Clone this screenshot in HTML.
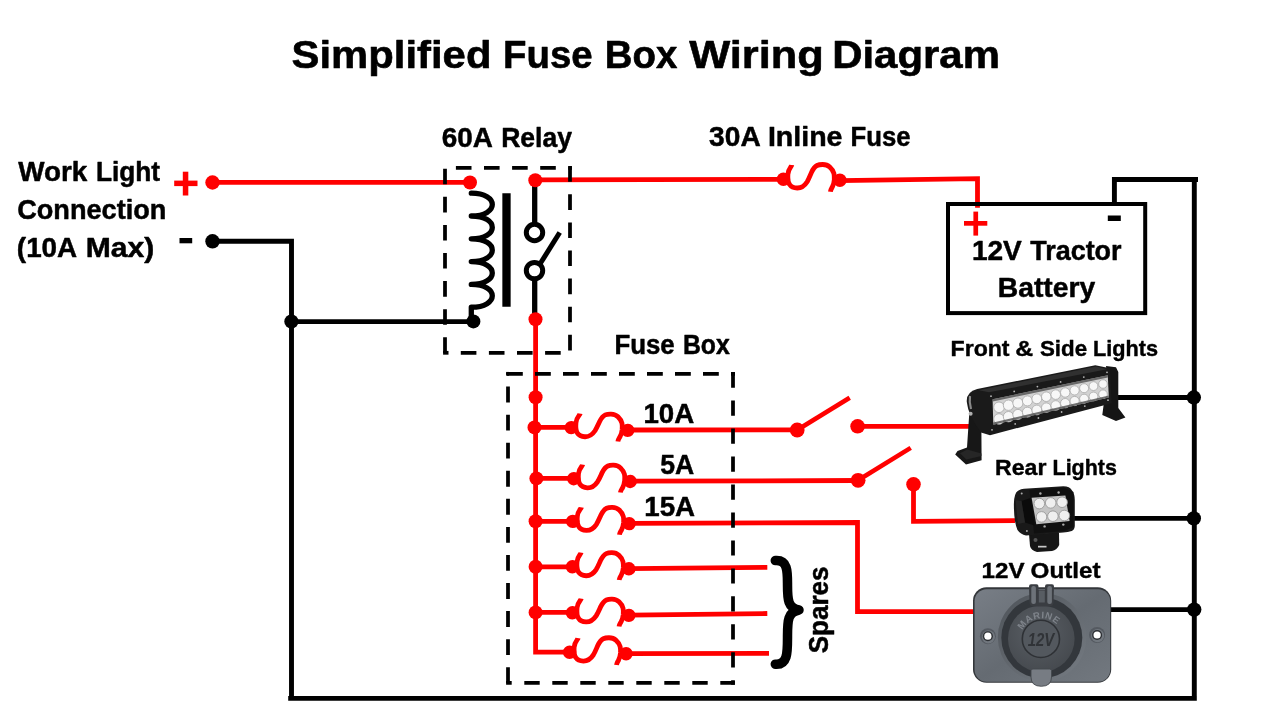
<!DOCTYPE html>
<html><head><meta charset="utf-8">
<style>
html,body{margin:0;padding:0;background:#fff;}
body{width:1280px;height:720px;overflow:hidden;}
svg{display:block;will-change:transform;}
text{font-family:"Liberation Sans",sans-serif;font-weight:bold;fill:#000;}
</style></head><body>
<svg width="1280" height="720" viewBox="0 0 1280 720">
<defs>
<g id="fuse">
  <circle cx="0" cy="0" r="6.7" fill="#f00"/>
  <circle cx="56.5" cy="1" r="6.7" fill="#f00"/>
  <path d="M8.4,-14.3 C8.2,-12.8 4.7,-10.5 4.5,-5 C4.2,0 5,3.5 6.2,5.2 C8,8 11,8.7 13.9,8.7 C18.5,8.7 21.5,6 23.8,2.4 C25.5,-0.5 26.8,-4 28,-6.7 C29.5,-10 31.5,-12.8 33.6,-13.8 C35.5,-14.7 37.5,-14.8 39.3,-14.8 C42,-14.8 44.5,-14 46.3,-12.3 C48.5,-10.3 50,-8 50.5,-6 C51,-4 51,-2 50.9,0.3 C50.7,3 50,5.5 49.1,7.3 C48.3,9 47.2,10.3 47,12.4" fill="none" stroke="#f00" stroke-width="4.8"/>
</g>
</defs>
<rect width="1280" height="720" fill="#fff"/>

<!-- TEXT -->
<g id="texts" stroke="#000" stroke-linejoin="round">
<text x="291.54" y="68.30" font-size="39.6" stroke-width="0.6" textLength="199.92" lengthAdjust="spacingAndGlyphs">Simplified</text>
<text x="503.01" y="68.30" font-size="39.6" stroke-width="0.6" textLength="89.60" lengthAdjust="spacingAndGlyphs">Fuse</text>
<text x="604.81" y="68.30" font-size="39.6" stroke-width="0.6" textLength="72.55" lengthAdjust="spacingAndGlyphs">Box</text>
<text x="689.19" y="68.30" font-size="39.6" stroke-width="0.6" textLength="134.70" lengthAdjust="spacingAndGlyphs">Wiring</text>
<text x="832.17" y="68.30" font-size="39.6" stroke-width="0.6" textLength="167.81" lengthAdjust="spacingAndGlyphs">Diagram</text>
<text x="18.18" y="180.80" font-size="28.0" stroke-width="0.5" textLength="69.06" lengthAdjust="spacingAndGlyphs">Work</text>
<text x="95.98" y="180.80" font-size="28.0" stroke-width="0.5" textLength="64.12" lengthAdjust="spacingAndGlyphs">Light</text>
<text x="17.16" y="218.80" font-size="28.0" stroke-width="0.5" textLength="149.20" lengthAdjust="spacingAndGlyphs">Connection</text>
<text x="16.86" y="256.80" font-size="28.0" stroke-width="0.5" textLength="60.36" lengthAdjust="spacingAndGlyphs">(10A</text>
<text x="85.72" y="256.80" font-size="28.0" stroke-width="0.5" textLength="68.56" lengthAdjust="spacingAndGlyphs">Max)</text>
<text x="441.81" y="147.20" font-size="28.0" stroke-width="0.5" textLength="51.10" lengthAdjust="spacingAndGlyphs">60A</text>
<text x="501.16" y="147.20" font-size="28.0" stroke-width="0.5" textLength="70.85" lengthAdjust="spacingAndGlyphs">Relay</text>
<text x="709.12" y="146.30" font-size="28.0" stroke-width="0.5" textLength="51.59" lengthAdjust="spacingAndGlyphs">30A</text>
<text x="767.92" y="146.30" font-size="28.0" stroke-width="0.5" textLength="74.60" lengthAdjust="spacingAndGlyphs">Inline</text>
<text x="850.61" y="146.30" font-size="28.0" stroke-width="0.5" textLength="60.01" lengthAdjust="spacingAndGlyphs">Fuse</text>
<text x="971.90" y="259.70" font-size="28.0" stroke-width="0.5" textLength="49.95" lengthAdjust="spacingAndGlyphs">12V</text>
<text x="1030.28" y="259.70" font-size="28.0" stroke-width="0.5" textLength="91.28" lengthAdjust="spacingAndGlyphs">Tractor</text>
<text x="997.74" y="297.40" font-size="28.0" stroke-width="0.5" textLength="97.48" lengthAdjust="spacingAndGlyphs">Battery</text>
<text x="614.41" y="353.70" font-size="28.0" stroke-width="0.5" textLength="60.32" lengthAdjust="spacingAndGlyphs">Fuse</text>
<text x="682.88" y="353.70" font-size="28.0" stroke-width="0.5" textLength="46.80" lengthAdjust="spacingAndGlyphs">Box</text>
<text x="643.42" y="422.50" font-size="27.4" stroke-width="0.5" textLength="50.78" lengthAdjust="spacingAndGlyphs">10A</text>
<text x="660.25" y="474.10" font-size="27.4" stroke-width="0.5" textLength="33.95" lengthAdjust="spacingAndGlyphs">5A</text>
<text x="644.32" y="515.60" font-size="27.4" stroke-width="0.5" textLength="50.78" lengthAdjust="spacingAndGlyphs">15A</text>
<text x="950.54" y="356.20" font-size="21.6" stroke-width="0.4" textLength="59.04" lengthAdjust="spacingAndGlyphs">Front</text>
<text x="1015.38" y="356.20" font-size="21.6" stroke-width="0.4" textLength="17.91" lengthAdjust="spacingAndGlyphs">&amp;</text>
<text x="1039.93" y="356.20" font-size="21.6" stroke-width="0.4" textLength="47.14" lengthAdjust="spacingAndGlyphs">Side</text>
<text x="1092.94" y="356.20" font-size="21.6" stroke-width="0.4" textLength="65.08" lengthAdjust="spacingAndGlyphs">Lights</text>
<text x="995.04" y="474.50" font-size="21.6" stroke-width="0.4" textLength="51.38" lengthAdjust="spacingAndGlyphs">Rear</text>
<text x="1052.55" y="474.50" font-size="21.6" stroke-width="0.4" textLength="64.35" lengthAdjust="spacingAndGlyphs">Lights</text>
<text x="981.59" y="578.40" font-size="21.9" stroke-width="0.4" textLength="42.97" lengthAdjust="spacingAndGlyphs">12V</text>
<text x="1030.63" y="578.40" font-size="21.9" stroke-width="0.4" textLength="70.00" lengthAdjust="spacingAndGlyphs">Outlet</text>
<text transform="translate(827.95,653.33) rotate(-90)" font-size="28.0" stroke-width="0.5" textLength="86.94" lengthAdjust="spacingAndGlyphs">Spares</text>
</g>

<!-- BLACK WIRES -->
<g id="blackwires" fill="none" stroke="#000" stroke-width="4.9" stroke-linejoin="miter">
<path d="M212.5,241.3 H291.5 V698.4 M288.2,698.4 H1196.8 M1194.3,698.4 V179.5 M1198,179.5 H1114.4 V204"/>
<path d="M291.4,321.6 H473.4"/>
<path d="M1118,397.5 H1194.2"/>
<path d="M1074,518.4 H1194.2"/>
<path d="M1110,609.6 H1194.2"/>
</g>
<g fill="#000">
<circle cx="212.5" cy="241.3" r="7.2"/>
<circle cx="291.4" cy="321.6" r="7.1"/>
<circle cx="473.4" cy="321.4" r="7"/>
<circle cx="1193.8" cy="397.5" r="7.2"/>
<circle cx="1193.8" cy="518.4" r="7.2"/>
<circle cx="1194.2" cy="609.6" r="7.2"/>
<rect x="179.5" y="238" width="12.7" height="5.3"/>
<rect x="1107.8" y="215.5" width="13" height="5.5"/>
</g>

<!-- RELAY -->
<g id="relay" fill="none" stroke="#000">
<path d="M471.3,193.2 c28,0 28,22.8 0,22.8 c28,0 28,22.8 0,22.8 c28,0 28,22.8 0,22.8 c28,0 28,22.8 0,22.8 c28,0 28,22.8 0,22.8 V318" stroke-width="5.3" stroke-linecap="round" stroke-linejoin="round"/>
<path d="M506.5,193.3 V306.7" stroke-width="8.3"/>
<path d="M534.7,182 V224 M534.7,279 V319" stroke-width="5.3"/>
<circle cx="534.5" cy="232.5" r="8.2" stroke-width="5"/>
<circle cx="534.5" cy="270.6" r="8.2" stroke-width="5"/>
<path d="M540,264 L559.7,232.5" stroke-width="5"/>
</g>



<!-- RED WIRES -->
<g id="redwires" fill="none" stroke="#f00" stroke-width="4.8">
<path d="M212.5,182.3 H470"/>
<path d="M535.3,179.9 L783,179.4"/>
<path d="M840,180.6 L977.5,178.6 V207.8"/>
<path d="M535.6,319 V652.2 H569.4"/>
<path d="M535.6,427.3 H571.3"/>
<path d="M535.6,478.4 H573.5"/>
<path d="M535.6,521.3 H572.2"/>
<path d="M535.6,566.8 H572.2"/>
<path d="M535.6,612.4 H572.2"/>
<path d="M628,430 L797.2,429.8"/>
<path d="M631.3,481.2 L858.1,480.5"/>
<path d="M629.8,523.3 L857.5,522.5 V611.6 H973.5"/>
<path d="M629,568.7 L767.3,567.3"/>
<path d="M629,615.2 L767.3,613.5"/>
<path d="M626,653.7 L769,653.4"/>
<path d="M857.6,426.3 H970"/>
<path d="M913.5,484.3 V521.4 L1015,520.6"/>
<path d="M797.2,430 L849.7,397.8" stroke-width="4.6"/>
<path d="M858.1,480.3 L910.7,447.9" stroke-width="4.6"/>
</g>
<g fill="#f00">
<circle cx="212.5" cy="182.5" r="7.2"/>
<circle cx="470" cy="182.5" r="7"/>
<circle cx="535.3" cy="180.3" r="7"/>
<circle cx="535.5" cy="319.3" r="7"/>
<circle cx="535.6" cy="397.3" r="7"/>
<circle cx="534.5" cy="427.4" r="7"/>
<circle cx="536.4" cy="478.4" r="7"/>
<circle cx="535.6" cy="521.3" r="7"/>
<circle cx="535.6" cy="566.8" r="7"/>
<circle cx="535.6" cy="612.4" r="7"/>
<circle cx="797.2" cy="430" r="7.4"/>
<circle cx="857.6" cy="426.3" r="7.3"/>
<circle cx="858.1" cy="480.3" r="7.4"/>
<circle cx="913.5" cy="484.3" r="7.3"/>
<rect x="174.2" y="180.6" width="23.3" height="5.5"/>
<rect x="182.8" y="171.7" width="5.5" height="23.8"/>
<rect x="964" y="221" width="23.3" height="4.7"/>
<rect x="973.4" y="211.6" width="4.7" height="24"/>
</g>
<use href="#fuse" x="783.4" y="179.3"/>
<use href="#fuse" x="571.3" y="427.6" transform="rotate(1.8 571.3 427.6)"/>
<use href="#fuse" x="573.8" y="478.7" transform="rotate(1.8 573.8 478.7)"/>
<use href="#fuse" x="572.7" y="521.4" transform="rotate(1.2 572.7 521.4)"/>
<use href="#fuse" x="572.4" y="566.8" transform="rotate(1 572.4 566.8)"/>
<use href="#fuse" x="572.4" y="612.8" transform="rotate(1.6 572.4 612.8)"/>
<use href="#fuse" x="569.6" y="652.3" transform="rotate(0.4 569.6 652.3)"/>

<!-- BATTERY -->
<rect x="948" y="204" width="197.2" height="109.1" fill="none" stroke="#000" stroke-width="4"/>
<!-- DASHED BOXES -->
<g id="relaydash" fill="none" stroke="#000" stroke-width="3.75" stroke-dasharray="15.6 12.5">
<path d="M445,168.7 V354.7"/>
<path d="M460.8,352.8 H570"/><path d="M443.1,352.8 H448.5" stroke-dasharray="none"/>
<path d="M570,350.4 V165.9" />
<path d="M571.9,167.8 H445" stroke-dashoffset="12"/>
</g>
<!-- FUSE BOX dashed -->
<g fill="none" stroke="#000" stroke-width="3.75">
<path d="M507,373.8 H735" stroke-dasharray="15.8 12.2"/>
<path d="M506.1,373.8 H509"/>
<path d="M733,372.6 V684.7" stroke-dasharray="15.2 12.77"/>
<path d="M734.9,682.8 H506.1" stroke-dasharray="15.4 12.6" stroke-dashoffset="0.8"/>
<path d="M508,684.7 V373" stroke-dasharray="15.9 12.16" stroke-dashoffset="-1.6"/>
</g>

<!-- BRACE -->
<path d="M775.3,560.6 C788,559.6 787.5,572 787.5,585 C787.5,600 788,608 799,610 C788,612 787.5,620 787.5,636 C787.5,652 788,665.2 775.3,664.2" fill="none" stroke="#000" stroke-width="9.5" stroke-linecap="round" stroke-linejoin="round"/>

<!-- IMAGES placeholder -->
<g id="lightbar">
<polygon points="969.3,413 981.3,417 981.6,460.2 966,464.6 955.2,454.5 957.5,451 967,447.5" fill="#171717"/>
<polygon points="960,453.3 967.2,449.5 981.4,453.5 981.4,456 966.4,459.5" fill="#262626"/>
<polygon points="1106,366 1116,367.3 1118.3,372 1118.3,408 1125.4,417.5 1116,421 1102.3,415 1104,402 1110,400" fill="#151515"/>
<path d="M966.8,402 Q966,392 977.2,389 L1095.3,365.2 L1110,368.3 L1111.7,403.3 L990,435.2 L981,432.5 Q968,415 966.8,402 Z" fill="#1a1a1a"/>
<polygon points="979,390.2 1096,366.6 1107,369.3 989,392.3" fill="#303030"/>
<polygon points="992.6,399.2 1107.8,375.3 1108.8,397.6 993.3,424.8" fill="#d2d2d2"/>
<g fill="#f7f7f7" stroke="#a8a8a8" stroke-width="0.8"><circle cx="999.0" cy="407.3" r="5.3"/><circle cx="999.0" cy="419.0" r="5.3"/><circle cx="1008.5" cy="405.2" r="5.2"/><circle cx="1008.5" cy="416.7" r="5.2"/><circle cx="1017.9" cy="403.1" r="5.1"/><circle cx="1017.9" cy="414.5" r="5.1"/><circle cx="1027.4" cy="400.9" r="5.0"/><circle cx="1027.4" cy="412.2" r="5.0"/><circle cx="1036.8" cy="398.8" r="4.9"/><circle cx="1036.8" cy="410.0" r="4.9"/><circle cx="1046.3" cy="396.7" r="4.8"/><circle cx="1046.3" cy="407.7" r="4.8"/><circle cx="1055.7" cy="394.6" r="4.8"/><circle cx="1055.7" cy="405.5" r="4.8"/><circle cx="1065.2" cy="392.5" r="4.7"/><circle cx="1065.2" cy="403.2" r="4.7"/><circle cx="1074.6" cy="390.4" r="4.6"/><circle cx="1074.6" cy="401.0" r="4.6"/><circle cx="1084.1" cy="388.2" r="4.5"/><circle cx="1084.1" cy="398.7" r="4.5"/><circle cx="1093.5" cy="386.1" r="4.4"/><circle cx="1093.5" cy="396.5" r="4.4"/><circle cx="1103.0" cy="384.0" r="4.3"/><circle cx="1103.0" cy="394.2" r="4.3"/></g>
<polygon points="992.6,399.2 1107.8,375.3 1107.9,377.4 992.7,401.6" fill="#444" opacity="0.75"/>
<polygon points="993.2,422.6 1108.7,395.5 1108.8,397.6 993.3,424.8" fill="#444" opacity="0.75"/>
<g fill="#b5b5b5"><circle cx="991.0" cy="396.2" r="0.9"/><circle cx="992.0" cy="429.8" r="0.9"/><circle cx="1014.2" cy="391.4" r="0.9"/><circle cx="1015.2" cy="423.9" r="0.9"/><circle cx="1037.4" cy="386.6" r="0.9"/><circle cx="1038.4" cy="418.0" r="0.9"/><circle cx="1060.6" cy="381.9" r="0.9"/><circle cx="1061.6" cy="412.0" r="0.9"/><circle cx="1083.8" cy="377.1" r="0.9"/><circle cx="1084.8" cy="406.1" r="0.9"/><circle cx="1107.0" cy="372.3" r="0.9"/><circle cx="1108.0" cy="400.2" r="0.9"/></g>
<path d="M970,396 Q969,402 971,409" stroke="#8a8a8a" stroke-width="2.2" fill="none"/>
<circle cx="970.6" cy="413.8" r="2" fill="#b0b0b0"/>
</g>
<g id="rearlight">
<path d="M1029,534 L1059,532.5 L1059.2,545 Q1057,550 1052,551 L1037,552 Q1031,550.5 1030,546 Z" fill="#161616"/>
<path d="M1013.9,506 Q1013.5,493 1018.5,490.4 Q1021,488.9 1024,488.8 L1063.3,486.2 Q1070,486.3 1071.7,490 Q1074.8,494 1074.8,500 L1074.8,526 Q1074.5,530 1071.7,531 Q1068,532.3 1063.3,532.4 L1026,535.4 Q1020.5,534.5 1017.5,530 Q1014,522 1013.9,506 Z" fill="#191919"/>
<polygon points="1029.5,490 1064,487.5 1073.5,492 1073.5,527 1064,531 1034,533.5" fill="#101010"/>
<polygon points="1031.6,497.7 1065.4,495.6 1069.6,521.1 1036.3,524.3" fill="#c4c4c4"/>
<g fill="#efefef" stroke="#999" stroke-width="0.9"><circle cx="1039.3" cy="503.6" r="5.3"/><circle cx="1050.7" cy="502.9" r="5.3"/><circle cx="1062.1" cy="502.2" r="5.3"/><circle cx="1041.5" cy="516.9" r="5.3"/><circle cx="1052.9" cy="516.2" r="5.3"/><circle cx="1064.3" cy="515.5" r="5.3"/></g>
<polygon points="1021.5,501 1030.5,498 1034.5,525.5 1025,522.5" fill="#0b0b0b"/>
<polygon points="1015.5,500 1021.5,501 1025,522.5 1018,524" fill="#262626"/>
<g fill="#aaa"><circle cx="1040.4" cy="493.5" r="1.2"/><circle cx="1058.6" cy="492.5" r="1.2"/>
<circle cx="1044.6" cy="526.4" r="1.2"/><circle cx="1063.3" cy="524.6" r="1.2"/><circle cx="1021.7" cy="493.5" r="1"/><circle cx="1026.9" cy="531" r="1"/></g>
<rect x="1038" y="545.8" width="8.5" height="1.7" fill="#c8c8c8"/>
<circle cx="1035.5" cy="540" r="2" fill="#555"/>
</g>
<g id="outlet">
<defs>
<linearGradient id="plateG" x1="0" y1="0" x2="1" y2="1">
<stop offset="0" stop-color="#787e86"/><stop offset="0.5" stop-color="#656b72"/><stop offset="1" stop-color="#72787f"/>
</linearGradient>
<radialGradient id="capG" cx="0.45" cy="0.4" r="0.7">
<stop offset="0" stop-color="#5a5f65"/><stop offset="1" stop-color="#43474c"/>
</radialGradient>
<linearGradient id="ringG" x1="0" y1="0" x2="1" y2="1">
<stop offset="0" stop-color="#4e5359"/><stop offset="1" stop-color="#767c83"/>
</linearGradient>
</defs>
<rect x="973" y="587.3" width="138.2" height="95.4" rx="13.5" ry="13.5" fill="#33363a"/>
<rect x="974.6" y="589.2" width="135.6" height="92.6" rx="12" ry="12" fill="url(#plateG)"/>
<circle cx="1042.1" cy="637.3" r="44.3" fill="url(#ringG)"/>
<circle cx="1041.8" cy="637.8" r="40.5" fill="#33373c"/>
<circle cx="1041.3" cy="638.8" r="33.3" fill="url(#capG)"/>
<circle cx="1040.9" cy="638.9" r="18.6" fill="#53585e" stroke="#2e3135" stroke-width="1.6"/>
<text x="1027.8" y="646.4" font-size="18" font-style="italic" textLength="26.5" lengthAdjust="spacingAndGlyphs" style="fill:#303337">12V</text>
<path id="marc" d="M1022.3,630.3 A21.5,21.5 0 0 1 1060.5,629.5" fill="none"/>
<text font-size="9.5" style="fill:#7f848b;font-weight:bold" letter-spacing="0.6"><textPath href="#marc">MARINE</textPath></text>
<circle cx="987.9" cy="636.2" r="8" fill="#555a61"/>
<circle cx="988.4" cy="636.8" r="6.6" fill="#70767d"/>
<circle cx="987.9" cy="636.2" r="5" fill="#2d3034"/>
<circle cx="987.9" cy="636.2" r="3.6" fill="#fff"/>
<circle cx="1097.1" cy="635" r="8" fill="#555a61"/>
<circle cx="1097.6" cy="635.6" r="6.6" fill="#70767d"/>
<circle cx="1097.1" cy="635" r="5" fill="#2d3034"/>
<circle cx="1097.1" cy="635" r="3.6" fill="#fff"/>
<path d="M1029,586.5 Q1029,584.3 1031,584.3 L1036.5,584.3 Q1038.5,584.3 1038.5,586.5 L1038.5,590 L1045,590 L1045,586.5 Q1045,584.3 1047,584.3 L1052,584.3 Q1054,584.3 1054,586.5 L1053.5,603 Q1053,606.5 1049,606.5 L1034,606.5 Q1030,606.5 1029.5,603 Z" fill="#3a3d42"/>
<rect x="1031.3" y="586" width="4.6" height="18" rx="2" fill="#6d7279"/>
<rect x="1047.3" y="586" width="4.6" height="18" rx="2" fill="#6d7279"/>
<rect x="1038.8" y="590.5" width="6" height="12" fill="#585d63"/>
<path d="M1031,670.5 Q1031,669 1033,669 L1049.5,669 Q1051.5,669 1051.5,670.5 L1051.5,677 Q1051.5,686.3 1041.3,686.3 Q1031,686.3 1031,677 Z" fill="#777c83" stroke="#44484d" stroke-width="0.9"/>
</g>
</svg>
</body></html>
